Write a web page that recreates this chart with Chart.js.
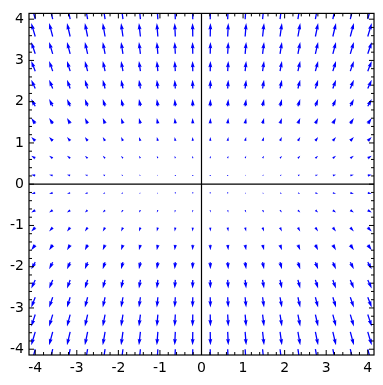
<!DOCTYPE html>
<html>
<head>
<meta charset="utf-8">
<script src="https://cdn.jsdelivr.net/npm/chart.js@4.4.0/dist/chart.umd.min.js"></script>
<style>
  html, body { margin: 0; padding: 0; background: #fff; }
  #wrap { width: 383px; height: 385px; }
</style>
</head>
<body>
<div id="wrap"><canvas id="chart" width="383" height="385"></canvas></div>
<script>
// arrow tails: grid columns and rows
const xCols = [-4, -3.58, -3.16, -2.74, -2.32, -1.89, -1.47, -1.05, -0.63, -0.21,
  0.21, 0.63, 1.05, 1.47, 1.89, 2.32, 2.74, 3.16, 3.58, 4];
const yRows = [-4, -3.58, -3.16, -2.74, -2.32, -1.89, -1.47, -1.05, -0.63, -0.21,
  0.21, 0.63, 1.05, 1.47, 1.89, 2.32, 2.74, 3.16, 3.58, 4];

// horizontal part of the arrows in each column, vertical part in each row
const colU = [-0.096, -0.086, -0.076, -0.066, -0.056, -0.045, -0.035, -0.025, -0.015, -0.005,
  0.005, 0.015, 0.025, 0.035, 0.045, 0.056, 0.066, 0.076, 0.086, 0.096];
const rowV = [-0.364, -0.326, -0.288, -0.249, -0.211, -0.173, -0.134, -0.096, -0.058, -0.019,
  0.019, 0.058, 0.096, 0.134, 0.173, 0.211, 0.249, 0.288, 0.326, 0.364];

const tickVals = [-4, -3, -2, -1, 0, 1, 2, 3, 4];

const arrows = [];
yRows.forEach((y, r) => {
  xCols.forEach((x, c) => {
    arrows.push({ x: x, y: y, u: colU[c], v: rowV[r] });
  });
});

// quiver style arrow, everything in pixels
const W = 1.3;
function drawArrow(ctx, x0, y0, dx, dy) {
  const len = Math.hypot(dx, dy);
  ctx.beginPath();
  if (len < W) {
    for (let i = 0; i < 6; i++) {
      const a = (Math.PI / 3) * i;
      const px = x0 + 0.5 * W * Math.cos(a);
      const py = y0 + 0.5 * W * Math.sin(a);
      if (i === 0) ctx.moveTo(px, py);
      else ctx.lineTo(px, py);
    }
  } else {
    const hl = 5 * W, hal = 4.5 * W, hw = 1.5 * W, sw = 0.5 * W;
    let pts;
    if (len < hl) {
      const k = len / hl;
      pts = [[0, -sw], [hl - hal, -sw], [0, -hw], [hl, 0], [0, hw], [hl - hal, sw], [0, sw]]
        .map((p) => [p[0] * k, p[1] * k]);
    } else {
      pts = [[0, -sw], [len - hal, -sw], [len - hl, -hw], [len, 0], [len - hl, hw], [len - hal, sw], [0, sw]];
    }
    const cs = dx / len, sn = dy / len;
    pts.forEach((p, i) => {
      const px = x0 + p[0] * cs - p[1] * sn;
      const py = y0 + p[0] * sn + p[1] * cs;
      if (i === 0) ctx.moveTo(px, py);
      else ctx.lineTo(px, py);
    });
  }
  ctx.closePath();
  ctx.fill();
}

const quiver = {
  id: "quiver",
  afterDatasetsDraw(chart) {
    const ctx = chart.ctx;
    const xs = chart.scales.x;
    const ys = chart.scales.y;
    const area = chart.chartArea;

    //arrows
    ctx.save();
    ctx.beginPath();
    ctx.rect(area.left, area.top, area.right - area.left, area.bottom - area.top);
    ctx.clip();
    ctx.fillStyle = "#0000ff";
    chart.data.datasets[0].data.forEach((a) => {
      const px = xs.getPixelForValue(a.x);
      const py = ys.getPixelForValue(a.y);
      const dx = xs.getPixelForValue(a.x + a.u) - px;
      const dy = ys.getPixelForValue(a.y + a.v) - py;
      drawArrow(ctx, px, py, dx, dy);
    });
    ctx.restore();

    //axes lines through 0
    ctx.save();
    ctx.strokeStyle = "#000";
    ctx.lineWidth = 1.2;
    const x0 = xs.getPixelForValue(0);
    const y0 = ys.getPixelForValue(0);
    ctx.beginPath();
    ctx.moveTo(area.left, y0);
    ctx.lineTo(area.right, y0);
    ctx.moveTo(x0, area.top);
    ctx.lineTo(x0, area.bottom);
    ctx.stroke();

    //frame
    ctx.lineWidth = 1.2;
    ctx.strokeRect(area.left, area.top, area.right - area.left, area.bottom - area.top);

    //ticks, pointing inwards
    ctx.lineWidth = 1;
    ctx.beginPath();
    for (let i = -20; i <= 20; i++) {
      const v = i / 5;
      const size = i % 5 === 0 ? 5 : 3;
      const px = xs.getPixelForValue(v);
      const py = ys.getPixelForValue(v);
      ctx.moveTo(px, area.bottom);
      ctx.lineTo(px, area.bottom - size);
      ctx.moveTo(px, area.top);
      ctx.lineTo(px, area.top + size);
      ctx.moveTo(area.left, py);
      ctx.lineTo(area.left + size, py);
      ctx.moveTo(area.right, py);
      ctx.lineTo(area.right - size, py);
    }
    ctx.stroke();
    ctx.restore();
  },
};

Chart.defaults.font.family = "'DejaVu Sans', sans-serif";
Chart.defaults.font.size = 14;
Chart.defaults.color = "#000";

const chart = document.querySelector("#chart").getContext("2d");

new Chart(chart, {
  type: "scatter",
  data: {
    datasets: [
      {
        data: arrows,
        pointRadius: 0,
        pointHoverRadius: 0,
      },
    ],
  },
  options: {
    responsive: false,
    animation: false,
    events: [],
    layout: { padding: { top: 11, right: 9, left: 0, bottom: 0 } },
    plugins: {
      legend: { display: false },
      tooltip: { enabled: false },
    },
    scales: {
      x: {
        type: "linear",
        min: -4.15,
        max: 4.15,
        grid: { display: false, drawTicks: false },
        border: { display: false },
        afterBuildTicks: (s) => {
          s.ticks = tickVals.map((v) => ({ value: v }));
        },
        afterFit: (s) => {
          s.height = 30;
        },
        ticks: {
          padding: 5,
          maxRotation: 0,
          autoSkip: false,
          callback: (v) => String(v),
        },
      },
      y: {
        type: "linear",
        min: -4.14,
        max: 4.14,
        grid: { display: false, drawTicks: false },
        border: { display: false },
        afterBuildTicks: (s) => {
          s.ticks = tickVals.map((v) => ({ value: v }));
        },
        afterFit: (s) => {
          s.width = 29;
        },
        ticks: {
          padding: 5,
          autoSkip: false,
          callback: (v) => String(v),
        },
      },
    },
  },
  plugins: [quiver],
});
</script>
</body>
</html>
